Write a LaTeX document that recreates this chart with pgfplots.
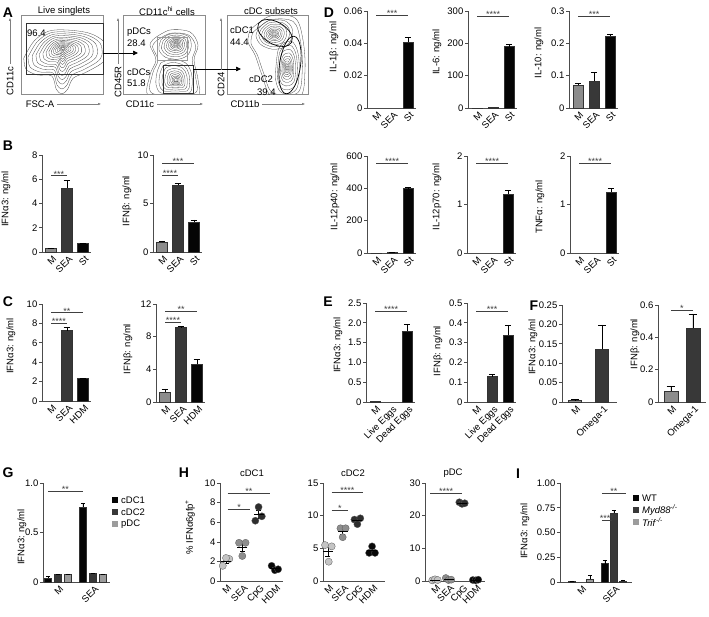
\documentclass[border=0pt]{standalone}
\usepackage{fontspec}
\setmainfont{Liberation Sans}
\usepackage{pgfplots}
\usepackage{pgfplotstable}
\pgfplotsset{compat=1.18}
\usetikzlibrary{arrows.meta}
\definecolor{cM}{HTML}{8C8C8C}
\definecolor{cS}{HTML}{383838}
\definecolor{cK}{HTML}{050505}
\definecolor{cP}{HTML}{9C9C9C}
\definecolor{dM}{HTML}{C4C4C4}
\definecolor{dS}{HTML}{8E8E8E}
\definecolor{dC}{HTML}{2E2E2E}
\definecolor{dH}{HTML}{080808}
\newcommand{\fs}{\fontsize{9.5}{11}\selectfont}
\newcommand{\fst}{\fontsize{9}{10}\selectfont}
\newcommand{\fl}{\fontsize{14}{16}\selectfont\bfseries}

\pgfplotsset{
  base/.style={scale only axis, anchor=south west, clip=false,
    axis x line*=bottom, axis y line*=left,
    axis line style={black!70, line width=0.6pt},
    tick align=outside, major tick length=3pt,
    ytick style={black!70, line width=0.6pt},
    xtick style={draw=none},
    ymin=0, scaled y ticks=false, scaled x ticks=false,
    tick label style={font=\fs},
    x tick label style={rotate=45, anchor=north east, inner sep=1pt, xshift=2pt},
    y tick label style={inner sep=1.5pt}},
  bar3/.style={base, width=49pt, xmin=-0.5625, xmax=2.5, xtick={0,1,2}},
  flow/.style={scale only axis, anchor=south west, width=82pt, height=79pt,
    xmin=0, xmax=100, ymin=0, ymax=100, ticks=none,
    axis line style={black!45, line width=0.5pt}},
  cont/.style={smooth, tension=0.55, black!72, line width=0.3pt, forget plot},
}
\newcommand{\eb}[6]{\addplot[ybar, bar width=#5pt, bar shift=#6pt, fill=#4, draw=black!80, line width=0.4pt, error bars/.cd, y dir=plus, y explicit, error bar style={black, line width=0.5pt}, error mark options={black, rotate=90, mark size={0.3*#5pt}, line width=0.5pt}] coordinates {(#1,#2) +- (0,#3)};}
\newcommand{\nb}[5]{\addplot[ybar, bar width=#4pt, bar shift=#5pt, fill=#3, draw=black!80, line width=0.4pt] coordinates {(#1,#2)};}
\newcommand{\sig}[4]{\draw[black!75, line width=0.5pt] (axis cs:#1,#3) -- node[pos=0.5, anchor=base, yshift=-1.5pt, font=\fst, inner sep=0pt]{#4} (axis cs:#2,#3);}
\newcommand{\dts}[2]{\addplot[only marks, mark=*, mark size=3.6pt, mark options={fill=#1, draw=black!65, line width=0.3pt}] coordinates {#2};}
\newcommand{\msem}[1]{\addplot[only marks, mark=-, mark size=5pt, black, line width=0.6pt, error bars/.cd, y dir=both, y explicit, error bar style={black, line width=0.5pt}, error mark options={black, rotate=90, mark size=2.5pt, line width=0.5pt}] coordinates {#1};}

\pgfplotstableread{
x y
8.5 46.8
19.5 65.8
35.4 77.2
56.1 78.5
80.5 74.7
96.3 64.6
98.8 49.4
92.7 40.5
75.6 30.4
62.2 24
56.1 11.4
50 6.3
43.9 11.4
39 26.6
23.2 27.8
11 34.2
8.5 46.8
}\flowA
\pgfplotstableread{
x y
39 70.9
57.3 81
81.7 78.5
91.5 62
86.6 43
91.5 17.7
89 -3.8
32.9 -3.8
32.9 24
40.2 43
32.9 62
39 70.9
}\flowBenv
\pgfplotstableread{
x y
45.1 68.4
54.9 75.9
69.5 77.2
81.7 72.2
84.1 59.5
79.3 48.1
67.1 43
51.2 45.6
42.7 55.7
45.1 68.4
}\flowBp
\pgfplotstableread{
x y
45.1 40.5
59.8 45.6
76.8 40.5
84.1 27.8
85.4 11.4
81.7 0.5
63.4 0.5
45.1 0.5
39 11.4
40.2 27.8
45.1 40.5
}\flowBc
\pgfplotstableread{
x y
28.4 81
53.1 98.7
84 96.2
93.8 68.4
96.3 30.4
90.1 -3.8
55.6 -3.8
43.2 24
34.6 49.4
25.9 65.8
28.4 81
}\flowCenv
\pgfplotstableread{
x y
38.3 83.5
50.6 93.7
71.6 93.7
81.5 83.5
80.2 68.4
71.6 58.2
55.6 55.7
40.7 62
34.6 73.4
38.3 83.5
}\flowCa
\pgfplotstableread{
x y
67.9 65.8
80.2 68.4
87.7 55.7
90.1 32.9
87.7 7.6
77.8 -1.3
65.4 1.3
59.3 17.7
60.5 43
63 58.2
67.9 65.8
}\flowCb

\begin{document}
\begin{tikzpicture}
\path[use as bounding box] (0,0) rectangle (709pt,616pt);

% ================= A =================
\begin{axis}[flow, at={(21pt,522pt)}]
\pgfplotsinvokeforeach{1.12,1,0.88,0.77,0.67,0.57,0.48,0.4,0.33,0.27,0.21,0.16,0.11,0.07,0.04}{
 \addplot[cont] table[x expr={51+#1*(\thisrow{x}-51)}, y expr={58+#1*(\thisrow{y}-58)}]{\flowA};}
\end{axis}
\begin{axis}[flow, at={(123pt,522pt)}]
\pgfplotsinvokeforeach{1,0.9}{
 \addplot[cont] table[x expr={64+#1*(\thisrow{x}-64)}, y expr={40+#1*(\thisrow{y}-40)}]{\flowBenv};}
\pgfplotsinvokeforeach{0.95,0.8,0.66,0.53,0.42,0.33,0.25,0.18,0.12,0.07}{
 \addplot[cont] table[x expr={64.6+#1*(\thisrow{x}-64.6)}, y expr={63.3+#1*(\thisrow{y}-63.3)}]{\flowBp};
 \addplot[cont] table[x expr={64.6+#1*(\thisrow{x}-64.6)}, y expr={17.7+#1*(\thisrow{y}-17.7)}]{\flowBc};}
\end{axis}
\begin{axis}[flow, width=81pt, at={(227pt,522pt)}]
\pgfplotsinvokeforeach{1,0.9}{
 \addplot[cont] table[x expr={63+#1*(\thisrow{x}-63)}, y expr={50+#1*(\thisrow{y}-50)}]{\flowCenv};}
\pgfplotsinvokeforeach{0.95,0.8,0.66,0.53,0.42,0.33,0.25,0.18,0.12,0.07}{
 \addplot[cont] table[x expr={58+#1*(\thisrow{x}-58)}, y expr={76+#1*(\thisrow{y}-76)}]{\flowCa};
 \addplot[cont] table[x expr={74+#1*(\thisrow{x}-74)}, y expr={33+#1*(\thisrow{y}-33)}]{\flowCb};}
\end{axis}
% gates
\draw[black!80, line width=0.6pt] (26pt,593pt) rectangle (103pt,542pt);
\draw[black!40, line width=0.5pt] (157pt,579pt) rectangle (187pt,556pt);
\draw[black!80, line width=0.6pt] (163pt,551pt) rectangle (193pt,523pt);
\draw[black, line width=0.7pt, rotate around={-30:(275pt,583pt)}] (275pt,583pt) ellipse (19pt and 11pt);
\draw[black, line width=0.7pt, rotate around={-8:(290pt,551pt)}] (290pt,551pt) ellipse (10.5pt and 29pt);
\draw[black, line width=0.7pt, -{Triangle[length=5pt,width=4.5pt]}] (103pt,563pt) -- (138pt,563pt);
\draw[black, line width=0.7pt, -{Triangle[length=5pt,width=4.5pt]}] (193pt,547pt) -- (241pt,547pt);
% gate labels
\node[font=\fs, anchor=west, inner sep=0pt] at (27pt,583pt) {96.4};
\node[font=\fs, anchor=west, inner sep=0pt] at (127pt,584pt) {pDCs};
\node[font=\fs, anchor=west, inner sep=0pt] at (127pt,573pt) {28.4};
\node[font=\fs, anchor=west, inner sep=0pt] at (127pt,544pt) {cDCs};
\node[font=\fs, anchor=west, inner sep=0pt] at (127pt,533pt) {51.8};
\node[font=\fs, anchor=west, inner sep=0pt] at (230pt,586pt) {cDC1};
\node[font=\fs, anchor=west, inner sep=0pt] at (230pt,574pt) {44.4};
\node[font=\fs, anchor=west, inner sep=0pt] at (249pt,537pt) {cDC2};
\node[font=\fs, anchor=west, inner sep=0pt] at (257pt,524pt) {39.4};
% titles
\node[font=\fs] at (64pt,605pt) {Live singlets};
\node[font=\fs] at (167pt,605pt) {CD11c\textsuperscript{hi} cells};
\node[font=\fs] at (271pt,605pt) {cDC subsets};
% flow axis labels
\node[font=\fs, rotate=90] at (10pt,535pt) {CD11c};
\draw[black!50, line width=0.4pt, -{Latex[length=3pt,width=2.5pt]}] (10pt,552pt) -- (10pt,598pt);
\node[font=\fs] at (40pt,512pt) {FSC-A};
\draw[black!50, line width=0.4pt, -{Latex[length=3pt,width=2.5pt]}] (57pt,512pt) -- (101pt,512pt);
\node[font=\fs, rotate=90] at (118pt,534pt) {CD45R};
\draw[black!50, line width=0.4pt, -{Latex[length=3pt,width=2.5pt]}] (118pt,552pt) -- (118pt,598pt);
\node[font=\fs] at (140pt,512pt) {CD11c};
\draw[black!50, line width=0.4pt, -{Latex[length=3pt,width=2.5pt]}] (157pt,512pt) -- (203pt,512pt);
\node[font=\fs, rotate=90] at (221pt,532pt) {CD24};
\draw[black!50, line width=0.4pt, -{Latex[length=3pt,width=2.5pt]}] (221pt,546pt) -- (221pt,598pt);
\node[font=\fs] at (245pt,512pt) {CD11b};
\draw[black!50, line width=0.4pt, -{Latex[length=3pt,width=2.5pt]}] (262pt,512pt) -- (305pt,512pt);

% ================= B =================
\begin{axis}[bar3, at={(42pt,364pt)}, height=97pt, ymax=8, ytick={0,2,4,6,8}, yticklabels={0,2,4,6,8}, xticklabels={M,SEA,St}]
\eb{0}{0.3}{0.05}{cM}{11}{0}
\eb{1}{5.3}{0.6}{cS}{11}{0}
\eb{2}{0.7}{0.05}{cK}{11}{0}
\sig{0}{1}{6.3}{***}
\end{axis}
\begin{axis}[bar3, at={(153pt,364pt)}, height=97pt, ymax=10, ytick={0,5,10}, yticklabels={0,5,10}, xticklabels={M,SEA,St}]
\eb{0}{1.0}{0.15}{cM}{11}{0}
\eb{1}{6.9}{0.2}{cS}{11}{0}
\eb{2}{3.1}{0.2}{cK}{11}{0}
\sig{0}{1}{7.9}{****}
\sig{0}{2}{9.2}{***}
\end{axis}
% ================= C =================
\begin{axis}[bar3, at={(42pt,215pt)}, height=97pt, ymax=10, ytick={0,2,4,6,8,10}, yticklabels={0,2,4,6,8,10}, xticklabels={M,SEA,HDM}]
\eb{1}{7.25}{0.4}{cS}{11}{0}
\eb{2}{2.3}{0.06}{cK}{11}{0}
\sig{0}{1}{8.0}{****}
\sig{0}{2}{9.1}{**}
\end{axis}
\begin{axis}[bar3, at={(156pt,214pt)}, height=98pt, ymax=12, ytick={0,4,8,12}, yticklabels={0,4,8,12}, xticklabels={M,SEA,HDM}]
\eb{0}{1.2}{0.4}{cM}{11}{0}
\eb{1}{9.1}{0.2}{cS}{11}{0}
\eb{2}{4.6}{0.6}{cK}{11}{0}
\sig{0}{1}{9.8}{****}
\sig{0}{2}{11.1}{**}
\end{axis}
% ================= D =================
\begin{axis}[bar3, at={(367pt,508pt)}, height=97pt, ymax=0.06, ytick={0,0.02,0.04,0.06}, yticklabels={0,0.02,0.04,0.06}, xticklabels={M,SEA,St}]
\eb{2}{0.041}{0.0025}{cK}{10.5}{0}
\sig{0}{2}{0.0575}{***}
\end{axis}
\begin{axis}[bar3, at={(468pt,508pt)}, height=97pt, ymax=300, ytick={0,100,200,300}, yticklabels={0,100,200,300}, xticklabels={M,SEA,St}]
\nb{0}{0.5}{cM}{10.5}{0}
\nb{1}{3}{cS}{10.5}{0}
\eb{2}{190}{6}{cK}{10.5}{0}
\sig{0}{2}{285}{****}
\end{axis}
\begin{axis}[bar3, at={(569pt,508pt)}, height=97pt, ymax=0.3, ytick={0,0.1,0.2,0.3}, yticklabels={0,0.1,0.2,0.3}, xticklabels={M,SEA,St}]
\eb{0}{0.072}{0.005}{cM}{10.5}{0}
\eb{1}{0.083}{0.027}{cS}{10.5}{0}
\eb{2}{0.222}{0.007}{cK}{10.5}{0}
\sig{0}{2}{0.285}{***}
\end{axis}
\begin{axis}[bar3, at={(367pt,363pt)}, height=97pt, ymax=600, ytick={0,200,400,600}, yticklabels={0,200,400,600}, xticklabels={M,SEA,St}]
\nb{0}{1}{cM}{10.5}{0}
\eb{1}{5}{1}{cS}{10.5}{0}
\eb{2}{398}{8}{cK}{10.5}{0}
\sig{0}{2}{555}{****}
\end{axis}
\begin{axis}[bar3, at={(467pt,363pt)}, height=97pt, ymax=2, ytick={0,1,2}, yticklabels={0,1,2}, xticklabels={M,SEA,St}]
\eb{2}{1.21}{0.08}{cK}{10.5}{0}
\sig{0}{2}{1.86}{****}
\end{axis}
\begin{axis}[bar3, at={(570pt,363pt)}, height=97pt, ymax=2, ytick={0,1,2}, yticklabels={0,1,2}, xticklabels={M,SEA,St}]
\eb{2}{1.26}{0.07}{cK}{10.5}{0}
\sig{0}{2}{1.86}{****}
\end{axis}
% ================= E =================
\begin{axis}[bar3, at={(366pt,214pt)}, height=99pt, ymax=2.5, ytick={0,0.5,1,1.5,2,2.5}, yticklabels={0,0.5,1.0,1.5,2.0,2.5}, xticklabels={M,Live Eggs,Dead Eggs}]
\nb{0}{0.01}{cM}{10.5}{0}
\eb{2}{1.79}{0.17}{cK}{10.5}{0}
\sig{0}{2}{2.3}{****}
\end{axis}
\begin{axis}[bar3, at={(467pt,214pt)}, height=99pt, ymax=0.5, ytick={0,0.1,0.2,0.3,0.4,0.5}, yticklabels={0,0.1,0.2,0.3,0.4,0.5}, xticklabels={M,Live Eggs,Dead Eggs}]
\eb{1}{0.128}{0.012}{cS}{10.5}{0}
\eb{2}{0.337}{0.052}{cK}{10.5}{0}
\sig{0}{2}{0.46}{***}
\end{axis}
% ================= F =================
\begin{axis}[base, at={(562pt,214pt)}, width=55pt, height=97pt, xmin=-0.48, xmax=1.55, ymax=0.25, xtick={0,1}, xticklabels={M,Omega-1}, ytick={0,0.05,0.1,0.15,0.2,0.25}, yticklabels={0,0.05,0.10,0.15,0.20,0.25}]
\eb{0}{0.004}{0.002}{cM}{13}{0}
\eb{1}{0.137}{0.062}{cS}{13}{0}
\end{axis}
\begin{axis}[base, at={(658pt,214pt)}, width=48pt, height=97pt, xmin=-0.59, xmax=1.6, ymax=0.6, xtick={0,1}, xticklabels={M,Omega-1}, ytick={0,0.2,0.4,0.6}, yticklabels={0,0.2,0.4,0.6}]
\eb{0}{0.065}{0.035}{cM}{14}{0}
\eb{1}{0.455}{0.09}{cS}{14}{0}
\sig{0}{1}{0.57}{*}
\end{axis}
% ================= G =================
\begin{axis}[base, at={(43pt,34pt)}, width=67pt, height=99pt, xmin=-0.43, xmax=1.49, ymax=1, xtick={0,1}, xticklabels={M,SEA}, ytick={0,0.5,1}, yticklabels={0,0.5,1.0}]
\eb{-0.2857}{0.04}{0.02}{cK}{7}{0}
\eb{0.7143}{0.76}{0.04}{cK}{7}{0}
\eb{0}{0.075}{0.003}{cS}{7}{0}
\eb{1}{0.085}{0.005}{cS}{7}{0}
\eb{0.2857}{0.08}{0.003}{cP}{7}{0}
\eb{1.2857}{0.08}{0.003}{cP}{7}{0}
\sig{-0.2857}{0.7143}{0.92}{**}
\end{axis}
% ================= H =================
\begin{axis}[base, at={(220pt,35pt)}, width=63pt, height=98pt, xmin=-0.37, xmax=3.5, ymax=10, xtick={0,1,2,3}, xticklabels={M,SEA,CpG,HDM}, ytick={0,2,4,6,8,10}, yticklabels={0,2,4,6,8,10}]
\dts{dM}{(-0.2,1.55) (0.2,2.25) (0,2.35)}
\dts{dS}{(0.8,3.9) (1.2,3.9) (1,2.55)}
\dts{dC}{(2,7.55) (1.8,6.15) (2.2,6.6)}
\dts{dH}{(2.8,1.55) (3,1.1) (3.2,1.2)}
\msem{(0,2.05)+-(0,0.25) (1,3.45)+-(0,0.45) (2,6.77)+-(0,0.41) (3,1.28)+-(0,0.14)}
\sig{0.1}{1.5}{7.35}{*}
\sig{0.1}{2.7}{9.0}{**}
\end{axis}
\begin{axis}[base, at={(323pt,35pt)}, width=62pt, height=98pt, xmin=-0.34, xmax=3.88, ymax=15, xtick={0,1,2,3}, xticklabels={M,SEA,CpG,HDM}, ytick={0,5,10,15}, yticklabels={0,5,10,15}]
\dts{dM}{(-0.2,5.5) (0.25,5.3) (0.05,2.95)}
\dts{dS}{(0.85,8.07) (1.2,8.07) (1,6.7)}
\dts{dC}{(1.8,9.4) (2.2,9.6) (2,8.7)}
\dts{dH}{(2.8,4.3) (3,5.3) (3.2,4.3)}
\msem{(0,4.58)+-(0,0.82) (1,7.61)+-(0,0.46) (2,9.23)+-(0,0.27) (3,4.63)+-(0,0.33)}
\sig{0.25}{1.35}{10.9}{*}
\sig{0.25}{2.4}{13.6}{****}
\end{axis}
\begin{axis}[base, at={(425pt,35pt)}, width=60pt, height=98pt, xmin=-0.74, xmax=3.7, ymax=30, xtick={0,1,2,3}, xticklabels={M,SEA,CpG,HDM}, ytick={0,10,20,30}, yticklabels={0,10,20,30}]
\dts{dM}{(-0.2,0.2) (0,0.5) (0.2,0.3)}
\dts{dS}{(0.8,0.9) (1,0.3) (1.2,0.4)}
\dts{dC}{(1.8,24.1) (2,23.6) (2.2,23.8)}
\dts{dH}{(2.8,0.3) (3,0.2) (3.2,0.4)}
\msem{(0,0.33)+-(0,0.09) (1,0.53)+-(0,0.19) (2,23.83)+-(0,0.15) (3,0.3)+-(0,0.06)}
\sig{-0.37}{2}{26.9}{****}
\end{axis}
% ================= I =================
\begin{axis}[base, at={(560pt,34pt)}, width=72pt, height=99pt, xmin=-0.64, xmax=1.55, xtick={0,1}, xticklabels={M,SEA}, ymax=1, ytick={0,0.25,0.5,0.75,1}, yticklabels={0,0.25,0.50,0.75,1.00}]
\eb{-0.2727}{0.005}{0.006}{cK}{7}{0}
\eb{0.7273}{0.185}{0.035}{cK}{7}{0}
\eb{1}{0.695}{0.025}{cS}{7}{0}
\eb{0.2727}{0.03}{0.035}{cP}{7}{0}
\eb{1.2727}{0.012}{0.01}{cP}{7}{0}
\sig{0.636}{0.94}{0.625}{****}
\sig{0.636}{1.364}{0.9}{**}
\end{axis}

% ================= y labels =================
\node[font=\fs, rotate=90] at (6pt,417pt) {IFNα3: ng/ml};
\node[font=\fs, rotate=90] at (127pt,415pt) {IFNβ: ng/ml};
\node[font=\fs, rotate=90] at (11pt,270pt) {IFNα3: ng/ml};
\node[font=\fs, rotate=90] at (128pt,267pt) {IFNβ: ng/ml};
\node[font=\fs, rotate=90] at (334pt,569pt) {IL-1β: ng/ml};
\node[font=\fs, rotate=90] at (437pt,564pt) {IL-6: ng/ml};
\node[font=\fs, rotate=90] at (539pt,563pt) {IL-10: ng/ml};
\node[font=\fs, rotate=90] at (335pt,419pt) {IL-12p40: ng/ml};
\node[font=\fs, rotate=90] at (437pt,419pt) {IL-12p70: ng/ml};
\node[font=\fs, rotate=90] at (540pt,409pt) {TNFα: ng/ml};
\node[font=\fs, rotate=90] at (338pt,271pt) {IFNα3: ng/ml};
\node[font=\fs, rotate=90] at (438pt,265pt) {IFNβ: ng/ml};
\node[font=\fs, rotate=90] at (533pt,269pt) {IFNα3: ng/ml};
\node[font=\fs, rotate=90] at (635pt,272pt) {IFNβ: ng/ml};
\node[font=\fs, rotate=90] at (22pt,79pt) {IFNα3: ng/ml};
\node[font=\fs, rotate=90] at (190pt,89pt) {\% IFNα6gfp\textsuperscript{+}};
\node[font=\fs, rotate=90] at (525pt,85pt) {IFNα3: ng/ml};
% H titles
\node[font=\fs] at (252pt,143pt) {cDC1};
\node[font=\fs] at (353pt,143pt) {cDC2};
\node[font=\fs] at (453pt,143pt) {pDC};
% legends
\fill[cK] (112pt,113pt) rectangle (118pt,119pt);
\fill[cS] (112pt,101pt) rectangle (118pt,107pt);
\fill[cP] (112pt,89pt) rectangle (118pt,95pt);
\node[font=\fs, anchor=west, inner sep=0pt] at (121pt,116pt) {cDC1};
\node[font=\fs, anchor=west, inner sep=0pt] at (121pt,104pt) {cDC2};
\node[font=\fs, anchor=west, inner sep=0pt] at (121pt,92pt) {pDC};
\fill[cK] (633pt,115pt) rectangle (639pt,121pt);
\fill[cS] (633pt,103pt) rectangle (639pt,109pt);
\fill[cP] (633pt,91pt) rectangle (639pt,97pt);
\node[font=\fs, anchor=west, inner sep=0pt] at (642pt,118pt) {WT};
\node[font=\fs, anchor=west, inner sep=0pt] at (642pt,106pt) {\textit{Myd88}\textsuperscript{\textit{-/-}}};
\node[font=\fs, anchor=west, inner sep=0pt] at (642pt,94pt) {\textit{Trif}\textsuperscript{\textit{-/-}}};
% panel letters
\node[font=\fl] at (8pt,603pt) {A};
\node[font=\fl] at (8pt,470pt) {B};
\node[font=\fl] at (8pt,314pt) {C};
\node[font=\fl] at (329pt,603pt) {D};
\node[font=\fl] at (328pt,314pt) {E};
\node[font=\fl] at (534pt,310pt) {F};
\node[font=\fl] at (8pt,143pt) {G};
\node[font=\fl] at (184pt,143pt) {H};
\node[font=\fl] at (518pt,142pt) {I};
\end{tikzpicture}
\end{document}
